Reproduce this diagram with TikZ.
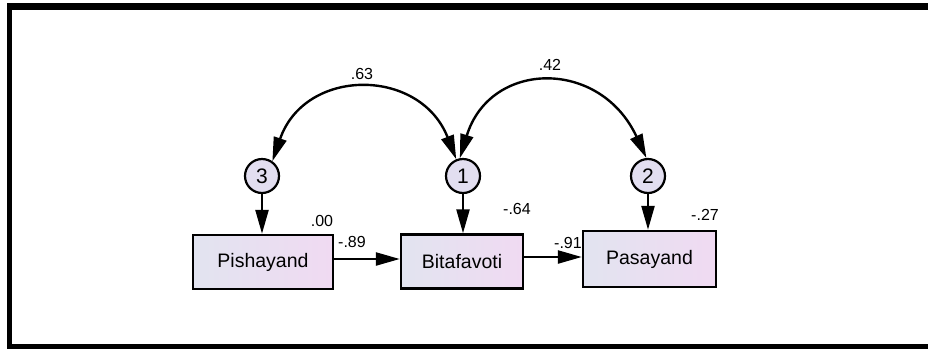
\documentclass[tikz,border=0pt]{standalone}
\usepackage{fontspec}
\setmainfont{Liberation Sans}
\usetikzlibrary{arrows.meta}
\definecolor{boxL}{RGB}{226,228,240}
\definecolor{boxR}{RGB}{240,218,242}
\definecolor{circfill}{RGB}{226,222,240}
\tikzset{
  varbox/.style={draw=black, line width=2.4pt, left color=boxL, right color=boxR,
    minimum height=54pt, inner sep=0pt, font=\fontsize{19.5}{19.5}\selectfont},
  errc/.style={draw=black, line width=2.2pt, fill=circfill, circle, minimum size=34pt,
    inner sep=0pt, font=\fontsize{21}{21}\selectfont},
  path/.style={line width=2.4pt, -{Triangle[length=24pt,width=13pt]}},
  cov/.style={line width=2.4pt, {Triangle[length=24pt,width=13pt]}-{Triangle[length=24pt,width=13pt]}},
  est/.style={font=\fontsize{16}{16}\selectfont, inner sep=0pt}
}
\begin{document}
\begin{tikzpicture}[x=1pt,y=-1pt]
\useasboundingbox (0,0) rectangle (928,349);
\fill[white] (0,0) rectangle (928,349);
% frame
\fill[black] (7,3) rectangle (928,10);
\fill[black] (7,3) rectangle (12,349);
\fill[black] (7,344) rectangle (928,349);

% boxes
\node[varbox, minimum width=140pt] (pi) at (263,262) {Pishayand};
\node[varbox, minimum width=122pt] (bi) at (462,261.5) {Bitafavoti};
\node[varbox, minimum width=133pt, minimum height=56pt] (pa) at (649.5,259) {Pasayand};

% error circles
\node[errc] (e3) at (262,176) {3};
\node[errc] (e1) at (463,176) {1};
\node[errc] (e2) at (648,176) {2};

% error paths
\draw[path] (e3.south) -- (e3.south |- pi.north);
\draw[path] (e1.south) -- (e1.south |- bi.north);
\draw[path] (e2.south) -- (e2.south |- pa.north);

% structural paths
\coordinate (a1) at (pi.east |- 0,259);
\coordinate (a2) at (bi.west |- 0,259);
\draw[path] (a1) -- (a2);
\coordinate (b1) at (bi.east |- 0,257);
\coordinate (b2) at (pa.west |- 0,257);
\draw[path] (b1) -- (b2);

% covariances
\draw[cov] (e3.55) .. controls (305,67) and (420,67) .. (e1.112);
\draw[cov] (e1.100) .. controls (490,60) and (600,58) .. (e2.95);

% estimates
\node[est] (l63) at (362,74) {.63};
\node[est] (l42) at (550,65) {.42};
\node[est] (l00) at (322,221) {.00};
\node[est] (l89) at (352,242) {-.89};
\node[est] (l64) at (517,209) {-.64};
\node[est] (l91) at (568,243) {-.91};
\node[est] (l27) at (705,215) {-.27};
\end{tikzpicture}
\end{document}
